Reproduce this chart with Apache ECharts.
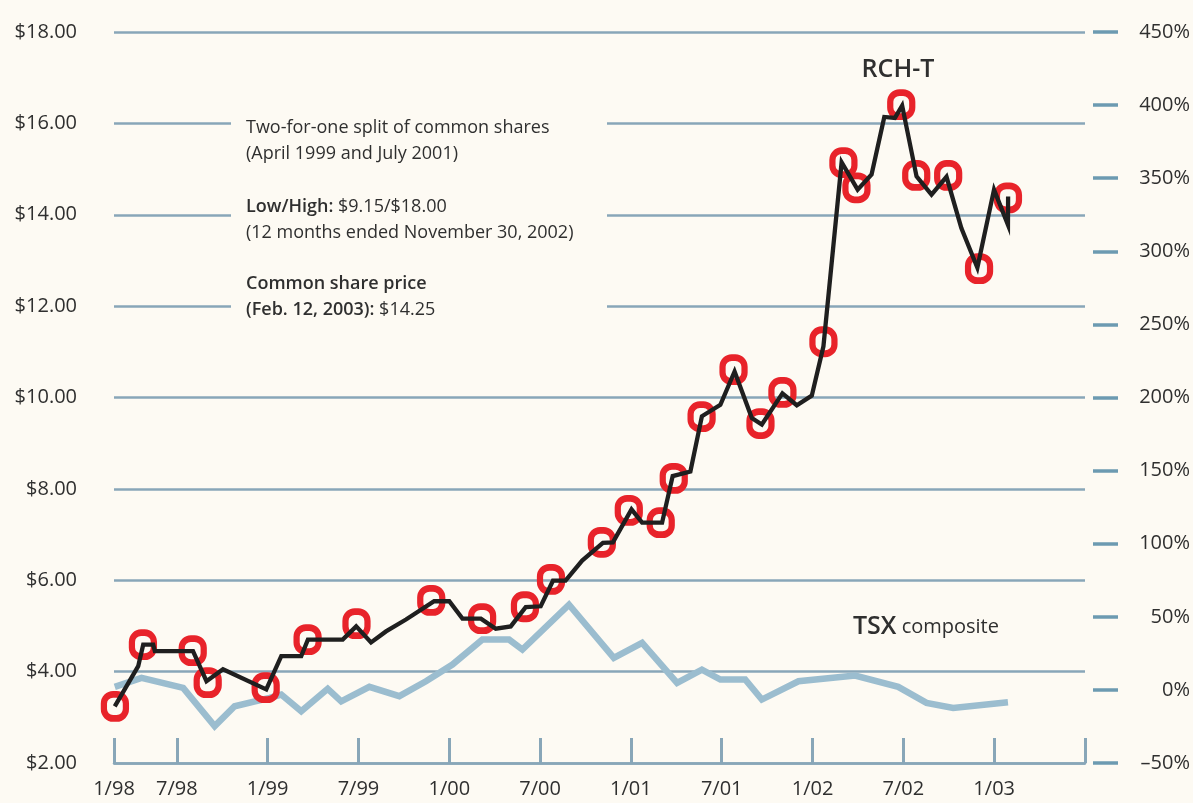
<!DOCTYPE html>
<html>
<head>
<meta charset="utf-8">
<script src="https://cdn.jsdelivr.net/npm/echarts@6/dist/echarts.min.js"></script>
<style>
  html, body { margin: 0; padding: 0; background: #fdfaf3; }
  #chart { width: 1193px; height: 803px; }
</style>
</head>
<body>
<div id="chart"></div>
<script>
// x values are months counted from 1/98 (axis starts a bit after, at xStart)
const xStart = 1.85;
const xEnd = 66;
const tickMonths = [1.85, 6, 12, 18, 24, 30, 36, 42, 48, 54, 60];
const tickLabels = ['1/98', '7/98', '1/99', '7/99', '1/00', '7/00', '1/01', '7/01', '1/02', '7/02', '1/03'];

// RCH-T share price ($)
const rchMonths = [1.9, 3.45, 3.78, 4.44, 4.55, 7.07, 7.96, 9.05, 11.91, 12.9, 14.22, 14.66, 16.96, 17.85, 18.83,
  19.82, 21.14, 23.0, 24.0, 24.87, 26.09, 27.07, 28.06, 29.05, 30.04, 30.85, 31.68, 32.78, 34.15, 34.81,
  36.04, 36.74, 38.06, 38.76, 39.93, 40.69, 41.91, 42.85, 43.99, 44.65, 46.01, 46.96, 47.95, 48.72,
  49.92, 50.98, 51.9, 52.74, 53.44, 53.92, 54.87, 55.86, 56.85, 57.83, 58.89, 59.99, 60.91, 60.92];
const rchPrices = [3.24, 4.12, 4.59, 4.59, 4.45, 4.45, 3.79, 4.05, 3.61, 4.34, 4.34, 4.70, 4.70, 4.99, 4.64,
  4.88, 5.14, 5.54, 5.54, 5.16, 5.16, 4.94, 4.99, 5.41, 5.43, 5.99, 5.99, 6.43, 6.82, 6.83,
  7.55, 7.26, 7.26, 8.28, 8.38, 9.59, 9.84, 10.57, 9.55, 9.41, 10.09, 9.83, 10.04, 11.12,
  15.15, 14.55, 14.88, 16.14, 16.12, 16.39, 14.84, 14.44, 14.83, 13.71, 12.84, 14.55, 13.78, 14.40];

// TSX composite, % change
const tsxMonths = [1.9, 3.67, 6.42, 8.5, 9.82, 12.13, 12.9, 14.22, 15.97, 16.86, 18.72, 20.7, 22.46, 24.21,
  26.19, 27.95, 28.83, 31.91, 34.87, 36.74, 39.05, 40.69, 41.91, 43.55, 44.65, 47.07, 50.81, 53.66,
  55.53, 57.29, 60.91];
const tsxChange = [2.1, 8.2, 1.4, -24.8, -11.2, -5.4, -3.2, -14.6, 0.7, -7.8, 2.1, -4.3, 5.9, 17.3,
  34.4, 34.4, 27.6, 58.3, 21.9, 32.2, 4.8, 13.9, 7.1, 7.1, -6.6, 5.9, 9.8, 2.1,
  -8.9, -12.3, -8.4];

// red rings
const markMonths = [1.91, 3.76, 7.05, 8.04, 11.87, 14.64, 17.87, 22.81, 26.17, 29.0, 30.72, 34.08, 35.86,
  37.97, 38.83, 40.67, 42.78, 44.56, 46.01, 48.72, 50.04, 50.9, 53.86, 54.85, 56.96, 59.0, 60.91];
const markPrices = [3.24, 4.59, 4.46, 3.76, 3.65, 4.70, 5.05, 5.56, 5.16, 5.42, 6.02, 6.83, 7.53,
  7.26, 8.23, 9.58, 10.61, 9.43, 10.11, 11.22, 15.14, 14.59, 16.41, 14.86, 14.86, 12.82, 14.37];

const bg = '#fdfaf3';
const gridColor = '#88a6b8';
const textColor = '#2f2f2f';
const font = '"Open Sans", "DejaVu Sans", sans-serif';

const chart = echarts.init(document.getElementById('chart'));

const zip = (xs, ys) => xs.map((x, i) => [x, ys[i]]);

const option = {
  backgroundColor: bg,
  animation: false,
  textStyle: { fontFamily: font },
  grid: { left: 114, right: 108, top: 32, bottom: 40 },
  xAxis: {
    type: 'value',
    min: xStart,
    max: xEnd,
    axisLine: { show: true, onZero: false, lineStyle: { color: gridColor, width: 2.5 } },
    axisTick: {
      show: true,
      inside: true,
      length: 25,
      customValues: tickMonths.concat([xEnd]),
      lineStyle: { color: gridColor, width: 3 },
    },
    axisLabel: {
      customValues: tickMonths,
      formatter: (v) => tickLabels[tickMonths.indexOf(v)] || '',
      fontSize: 20,
      color: textColor,
      margin: 16,
    },
    splitLine: { show: false },
  },
  yAxis: [
    {
      type: 'value',
      min: 2,
      max: 18,
      interval: 2,
      position: 'left',
      axisLine: { show: false },
      axisTick: { show: false },
      axisLabel: {
        formatter: (v) => '$' + v.toFixed(2),
        fontSize: 20,
        color: textColor,
        margin: 37,
      },
      splitLine: { show: true, lineStyle: { color: gridColor, width: 2.5 } },
    },
    {
      type: 'value',
      min: -50,
      max: 450,
      interval: 50,
      position: 'right',
      offset: 8,
      axisLine: { show: false },
      axisTick: { show: true, length: 25, lineStyle: { color: '#6c9ab1', width: 3.5 } },
      axisLabel: {
        formatter: (v) => (v < 0 ? '\u2013' + Math.abs(v) : v) + '%',
        fontSize: 20,
        color: textColor,
        align: 'right',
        margin: 97,
      },
      splitLine: { show: false },
    },
  ],
  series: [
    {
      name: 'TSX composite',
      type: 'line',
      yAxisIndex: 1,
      data: zip(tsxMonths, tsxChange),
      symbol: 'none',
      z: 2,
      lineStyle: { color: '#9bbdcf', width: 6.5, join: 'miter' },
    },
    {
      name: 'marks',
      type: 'scatter',
      yAxisIndex: 0,
      data: zip(markMonths, markPrices),
      symbol: 'path://M10,0 H14 A10,10 0 0 1 24,10 V16 A10,10 0 0 1 14,26 H10 A10,10 0 0 1 0,16 V10 A10,10 0 0 1 10,0 Z',
      symbolSize: [22, 24],
      z: 3,
      itemStyle: { color: 'rgba(0,0,0,0)', borderColor: '#e8232a', borderWidth: 6.5, opacity: 1 },
    },
    {
      name: 'RCH-T',
      type: 'line',
      yAxisIndex: 0,
      data: zip(rchMonths, rchPrices),
      symbol: 'none',
      z: 4,
      lineStyle: { color: '#1f1f1f', width: 4.3, join: 'miter' },
    },
  ],
  graphic: [
    { type: 'rect', z: 50, shape: { x: 231, y: 105, width: 376, height: 225 }, style: { fill: bg } },
    {
      type: 'text', z: 51, x: 246, y: 128,
      style: { text: 'Two-for-one split of common shares', fontSize: 18, fontFamily: font, fill: textColor, verticalAlign: 'middle' },
    },
    {
      type: 'text', z: 51, x: 246, y: 154,
      style: { text: '(April 1999 and July 2001)', fontSize: 18, fontFamily: font, fill: textColor, verticalAlign: 'middle' },
    },
    {
      type: 'text', z: 51, x: 246, y: 207,
      style: {
        text: '{b|Low/High:} $9.15/$18.00', fontSize: 18, fontFamily: font, fill: textColor, verticalAlign: 'middle',
        rich: { b: { fontSize: 18, fontFamily: font, fontWeight: 600, fill: textColor } },
      },
    },
    {
      type: 'text', z: 51, x: 246, y: 233,
      style: { text: '(12 months ended November 30, 2002)', fontSize: 18, fontFamily: font, fill: textColor, verticalAlign: 'middle' },
    },
    {
      type: 'text', z: 51, x: 246, y: 284,
      style: { text: 'Common share price', fontSize: 18, fontFamily: font, fontWeight: 600, fill: textColor, verticalAlign: 'middle' },
    },
    {
      type: 'text', z: 51, x: 246, y: 310,
      style: {
        text: '{b|(Feb. 12, 2003):} $14.25', fontSize: 18, fontFamily: font, fill: textColor, verticalAlign: 'middle',
        rich: { b: { fontSize: 18, fontFamily: font, fontWeight: 600, fill: textColor } },
      },
    },
    {
      type: 'text', z: 51, x: 898, y: 70,
      style: { text: 'RCH-T', fontSize: 25, fontFamily: font, fontWeight: 600, fill: textColor, align: 'center', verticalAlign: 'middle' },
    },
    {
      type: 'text', z: 51, x: 853, y: 627,
      style: {
        text: '{b|TSX} composite', fontSize: 20, fontFamily: font, fill: textColor, verticalAlign: 'middle',
        rich: { b: { fontSize: 25, fontFamily: font, fontWeight: 600, fill: textColor } },
      },
    },
  ],
};

chart.setOption(option);
</script>
</body>
</html>
